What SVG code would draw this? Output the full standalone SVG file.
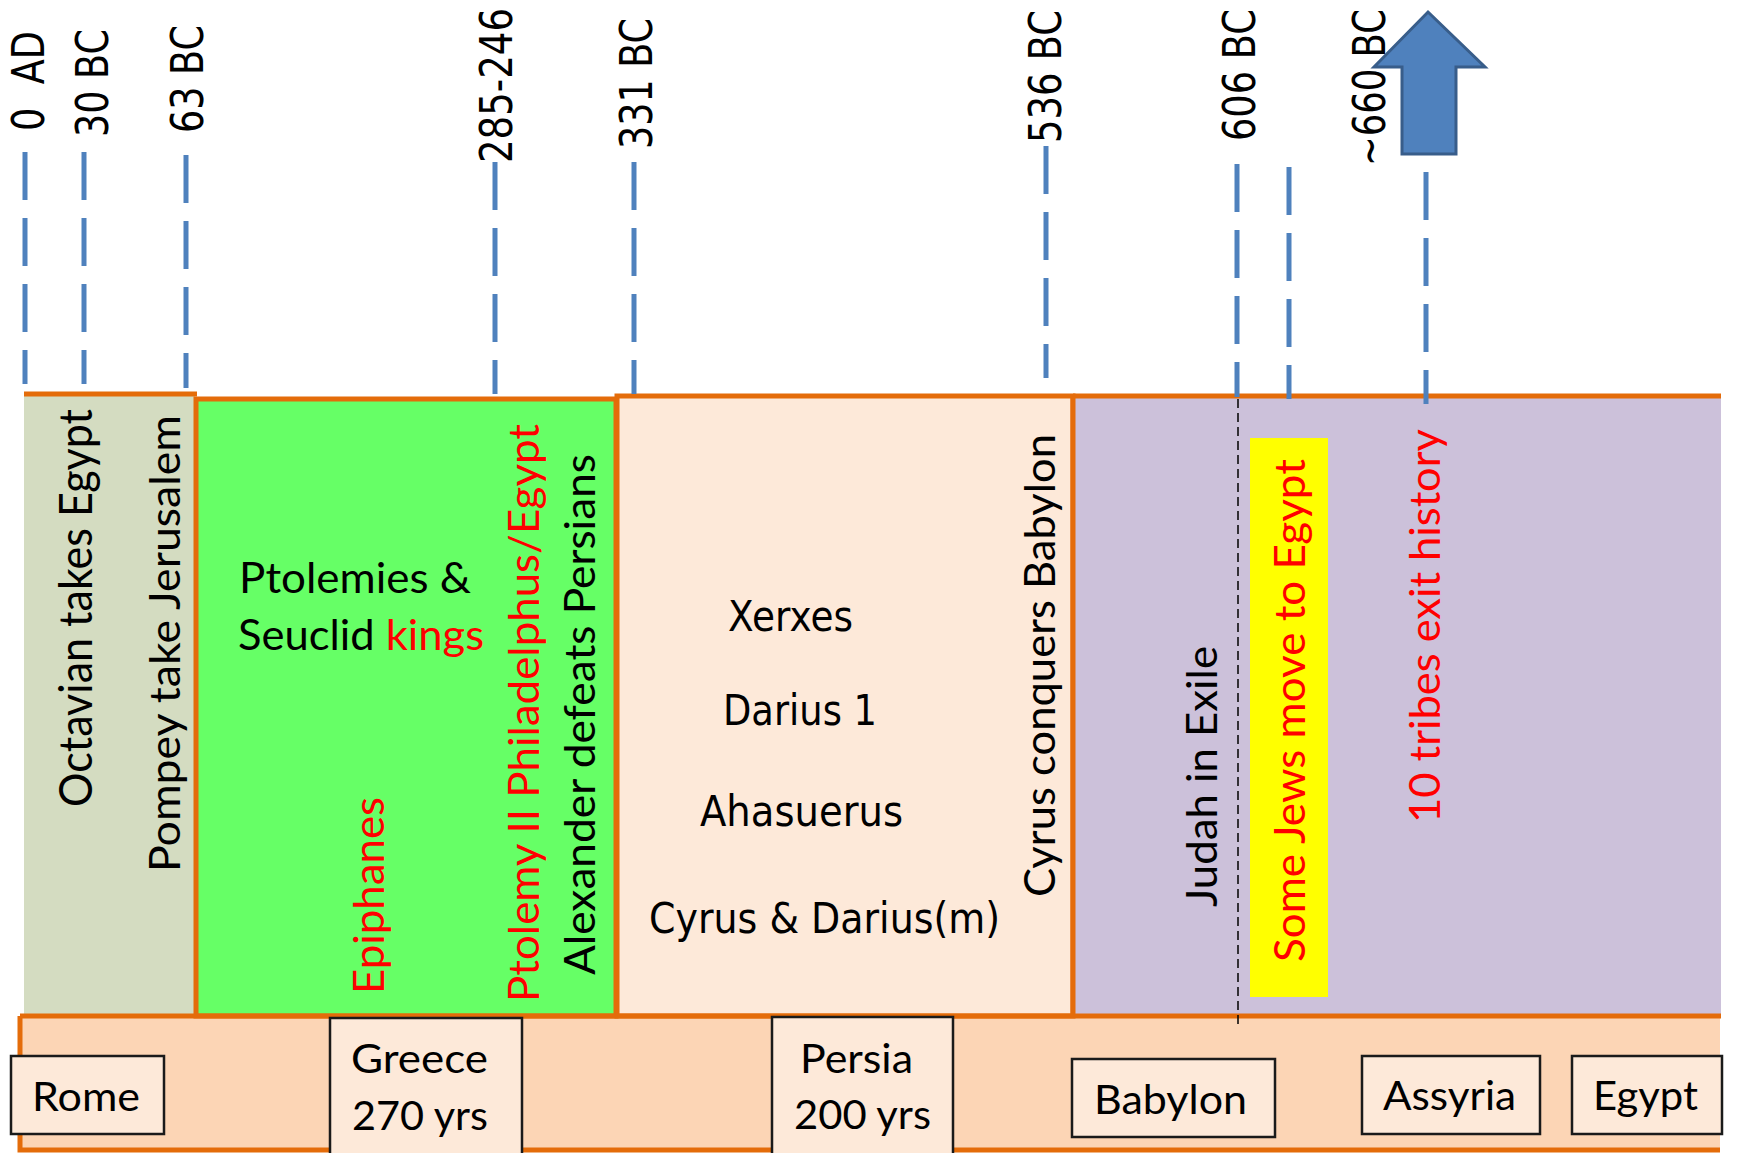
<svg xmlns="http://www.w3.org/2000/svg" width="1737" height="1153" viewBox="0 0 1737 1153">
<style>
.lato{font-family:Lato,"Open Sans","Liberation Sans",sans-serif;fill:#000}
.dv{font-family:"DejaVu Sans",Verdana,sans-serif;fill:#000}
.red{fill:#FF0000}
.ob{stroke:#E46C0A;stroke-width:5;fill:none}
.tick{stroke:#4F81BD;stroke-width:5;stroke-dasharray:48 18;fill:none}
.lbl{fill:#FDE9D9;stroke:#1a1a1a;stroke-width:2.5}
</style>
<rect x="0" y="0" width="1737" height="1153" fill="#FFFFFF"/>

<g id="bottom-strip">
<rect x="20" y="1016" width="1700" height="134" fill="#FCD5B5"/>
<path class="ob" d="M20,1016 V1150 H1720"/>
</g>

<g id="rome-era">
<rect x="24" y="394" width="171" height="622" fill="#D4DCC1"/>
<line class="ob" x1="24" y1="394" x2="197" y2="394"/>
<text class="lato" font-size="46" transform="translate(92,807) rotate(-90)" textLength="398" lengthAdjust="spacingAndGlyphs">Octavian takes Egypt</text>
<text class="lato" font-size="43" transform="translate(180,872) rotate(-90)" textLength="457" lengthAdjust="spacingAndGlyphs">Pompey take Jerusalem</text>
</g>

<g id="greece-era">
<rect x="196" y="399" width="420" height="617" class="ob" style="fill:#66FF66"/>
<text class="lato" font-size="42" x="239" y="593" textLength="232" lengthAdjust="spacingAndGlyphs">Ptolemies &amp;</text>
<text class="lato" font-size="42" x="238" y="650" textLength="246" lengthAdjust="spacingAndGlyphs">Seuclid <tspan class="red">kings</tspan></text>
<text class="lato red" font-size="43" transform="translate(384,994) rotate(-90)" textLength="197" lengthAdjust="spacingAndGlyphs">Epiphanes</text>
<text class="lato red" font-size="43" transform="translate(539,1002) rotate(-90)" textLength="578" lengthAdjust="spacingAndGlyphs">Ptolemy II Philadelphus/Egypt</text>
<text class="lato" font-size="43" transform="translate(595,975) rotate(-90)" textLength="521" lengthAdjust="spacingAndGlyphs">Alexander defeats Persians</text>
</g>

<g id="persia-era">
<rect x="617" y="396" width="456" height="620" class="ob" style="fill:#FDE9D9"/>
<text class="dv" font-size="42" x="728" y="631" textLength="125" lengthAdjust="spacingAndGlyphs">Xerxes</text>
<text class="dv" font-size="42" x="723" y="725" textLength="154" lengthAdjust="spacingAndGlyphs">Darius 1</text>
<text class="dv" font-size="42" x="700" y="826" textLength="203" lengthAdjust="spacingAndGlyphs">Ahasuerus</text>
<text class="dv" font-size="42" x="649" y="933" textLength="351" lengthAdjust="spacingAndGlyphs">Cyrus &amp; Darius(m)</text>
<text class="lato" font-size="42" transform="translate(1055,897) rotate(-90)" textLength="463" lengthAdjust="spacingAndGlyphs">Cyrus conquers Babylon</text>
</g>

<g id="babylon-assyria-era">
<rect x="1073" y="396" width="648" height="620" fill="#CCC1DA"/>
<path class="ob" d="M1073,396 H1721 M1073,396 V1016"/>
<rect x="1250" y="438" width="78" height="559" fill="#FFFF00"/>
<text class="lato" font-size="43" transform="translate(1217,907) rotate(-90)" textLength="261" lengthAdjust="spacingAndGlyphs">Judah in Exile</text>
<text class="lato red" font-size="42" transform="translate(1305,962) rotate(-90)" textLength="503" lengthAdjust="spacingAndGlyphs">Some Jews move to Egypt</text>
<text class="lato red" font-size="42" transform="translate(1440,823) rotate(-90)" textLength="394" lengthAdjust="spacingAndGlyphs">10 tribes exit history</text>
</g>

<line class="ob" x1="20" y1="1016" x2="1721" y2="1016"/>

<g id="connectors">
<line class="tick" x1="25" y1="152" x2="25" y2="384"/>
<line class="tick" x1="84" y1="152" x2="84" y2="384"/>
<line class="tick" x1="186" y1="155" x2="186" y2="388"/>
<line class="tick" x1="495" y1="162" x2="495" y2="394"/>
<line class="tick" x1="634" y1="162" x2="634" y2="394"/>
<line class="tick" x1="1046" y1="146" x2="1046" y2="378"/>
<line class="tick" x1="1237" y1="164" x2="1237" y2="397"/>
<line class="tick" x1="1289" y1="167" x2="1289" y2="399"/>
<line class="tick" x1="1426" y1="172" x2="1426" y2="404"/>
<line x1="1238" y1="399" x2="1238" y2="1028" stroke="#000" stroke-width="1.5" stroke-dasharray="9 5"/>
</g>

<g id="date-labels">
<text class="dv" font-size="36" transform="translate(44,131) rotate(-90) scale(1,1.25)" textLength="100" lengthAdjust="spacingAndGlyphs" xml:space="preserve">0  AD</text>
<text class="dv" font-size="36" transform="translate(108,137) rotate(-90) scale(1,1.25)" textLength="108" lengthAdjust="spacingAndGlyphs">30 BC</text>
<text class="dv" font-size="36" transform="translate(203,133) rotate(-90) scale(1,1.25)" textLength="108" lengthAdjust="spacingAndGlyphs">63 BC</text>
<text class="dv" font-size="36" transform="translate(512,163) rotate(-90) scale(1,1.25)" textLength="155" lengthAdjust="spacingAndGlyphs">285-246</text>
<text class="dv" font-size="36" transform="translate(652,149) rotate(-90) scale(1,1.25)" textLength="131" lengthAdjust="spacingAndGlyphs">331 BC</text>
<text class="dv" font-size="36" transform="translate(1061,143) rotate(-90) scale(1,1.25)" textLength="133" lengthAdjust="spacingAndGlyphs">536 BC</text>
<text class="dv" font-size="36" transform="translate(1255,141) rotate(-90) scale(1,1.25)" textLength="132" lengthAdjust="spacingAndGlyphs">606 BC</text>
<text class="dv" font-size="36" transform="translate(1385,166) rotate(-90) scale(1,1.25)" textLength="157" lengthAdjust="spacingAndGlyphs">~660 BC</text>
</g>

<g id="up-arrow">
<polygon points="1428,12 1485,67 1456,67 1456,154 1402,154 1402,67 1374,67" fill="#4F81BD" stroke="#385D8A" stroke-width="3"/>
</g>

<g id="label-rome">
<rect class="lbl" x="11" y="1056" width="153" height="78"/>
<text class="lato" font-size="40" x="32" y="1111" textLength="108" lengthAdjust="spacingAndGlyphs">Rome</text>
</g>
<g id="label-greece">
<rect class="lbl" x="330" y="1018" width="192" height="145"/>
<text class="lato" font-size="40" x="351" y="1073" textLength="137" lengthAdjust="spacingAndGlyphs">Greece</text>
<text class="lato" font-size="40" x="352" y="1130" textLength="136" lengthAdjust="spacingAndGlyphs">270 yrs</text>
</g>
<g id="label-persia">
<rect class="lbl" x="772" y="1017" width="181" height="146"/>
<text class="lato" font-size="40" x="800" y="1073" textLength="113" lengthAdjust="spacingAndGlyphs">Persia</text>
<text class="lato" font-size="40" x="794" y="1129" textLength="137" lengthAdjust="spacingAndGlyphs">200 yrs</text>
</g>
<g id="label-babylon">
<rect class="lbl" x="1072" y="1059" width="203" height="78"/>
<text class="lato" font-size="40" x="1094" y="1114" textLength="153" lengthAdjust="spacingAndGlyphs">Babylon</text>
</g>
<g id="label-assyria">
<rect class="lbl" x="1362" y="1056" width="178" height="78"/>
<text class="lato" font-size="40" x="1383" y="1110" textLength="133" lengthAdjust="spacingAndGlyphs">Assyria</text>
</g>
<g id="label-egypt">
<rect class="lbl" x="1572" y="1056" width="150" height="78"/>
<text class="lato" font-size="40" x="1593" y="1110" textLength="105" lengthAdjust="spacingAndGlyphs">Egypt</text>
</g>
</svg>
